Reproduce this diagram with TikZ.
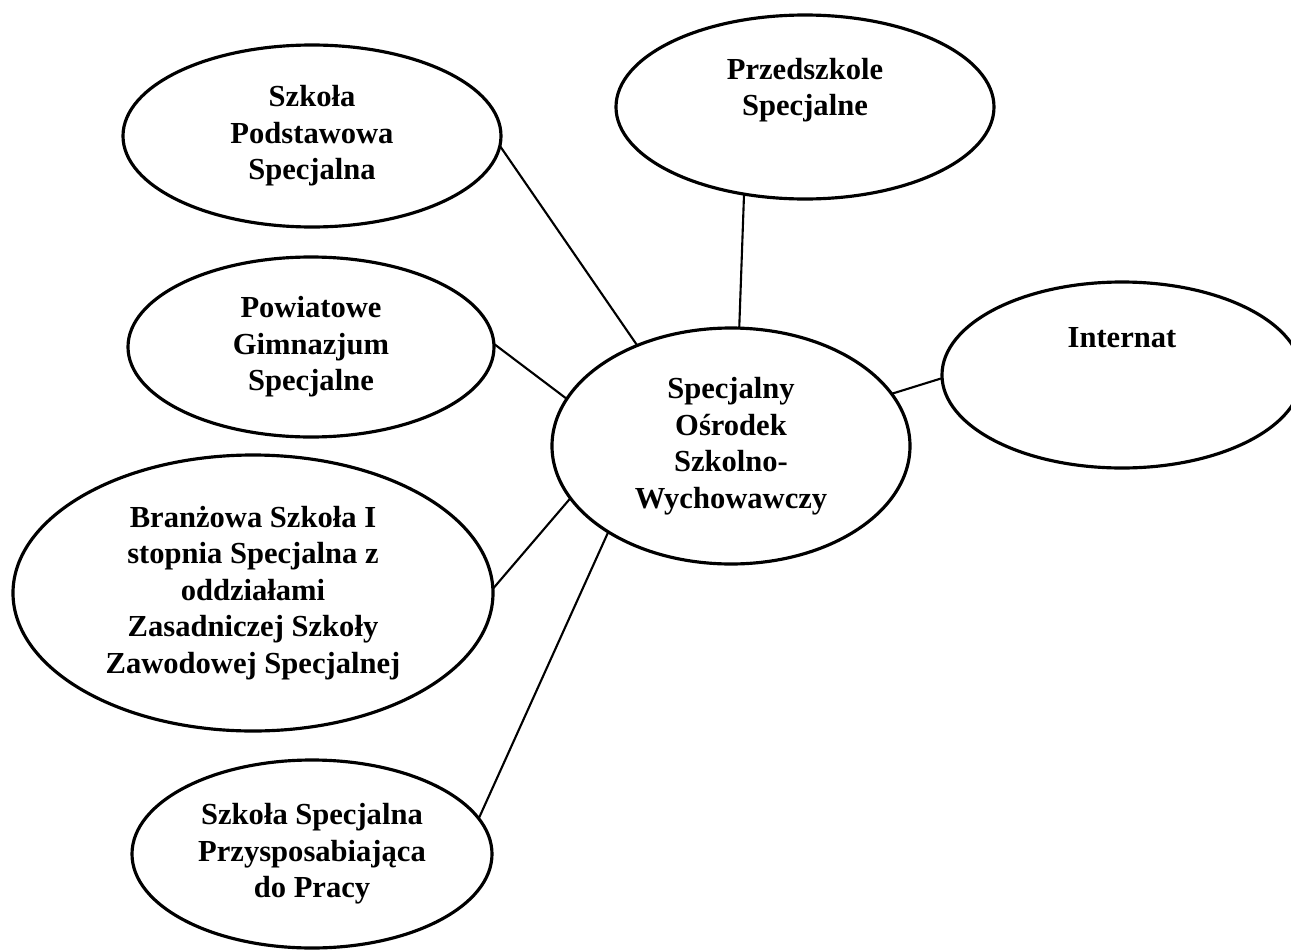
\documentclass[tikz,border=0pt]{standalone}
\usepackage{fontspec}
\setmainfont{Liberation Serif}
\usepackage{tikz}
\usetikzlibrary{shapes.geometric}

\begin{document}
\begin{tikzpicture}[
    bubble/.style={draw, ellipse, line width=1.8pt, inner sep=0pt, outer sep=0pt},
    lbl/.style={align=center, font=\bfseries\fontsize{17.4}{20.8}\selectfont},
    link/.style={line width=1.2pt}]
    \useasboundingbox (0,0) rectangle (25.82,-19.02);

    % the centre
    \node[bubble, lbl, minimum width=7.16cm, minimum height=4.72cm]
         (osrodek) at (14.62,-8.92) {Specjalny\\Ośrodek\\Szkolno-\\Wychowawczy};

    % left column
    \node[bubble, lbl, minimum width=7.56cm, minimum height=3.64cm]
         (podst) at (6.24,-2.72) {Szkoła\\Podstawowa\\Specjalna};
    \node[bubble, lbl, minimum width=7.32cm, minimum height=3.60cm]
         (gimn) at (6.22,-6.94) {Powiatowe\\Gimnazjum\\Specjalne};
    \node[bubble, lbl, minimum width=9.60cm, minimum height=5.52cm]
         (branz) at (5.06,-11.86)
         {Branżowa Szkoła I\\stopnia Specjalna z\\oddziałami\\Zasadniczej Szkoły\\Zawodowej Specjalnej};
    \node[bubble, lbl, minimum width=7.20cm, minimum height=3.76cm]
         (przysp) at (6.24,-17.08) {Szkoła Specjalna\\Przysposabiająca\\do Pracy};

    % top and right
    % (text sits high in these two)
    \node[bubble, minimum width=7.56cm, minimum height=3.68cm]
         (przed) at (16.10,-2.14) {};
    \node[lbl] (przed-t) at ([yshift=3.4mm]przed.center) {Przedszkole\\Specjalne};
    \node[bubble, minimum width=7.20cm, minimum height=3.72cm]
         (internat) at (22.44,-7.50) {};
    \node[lbl] (internat-t) at ([yshift=7.4mm]internat.center) {Internat};

    % links
    \draw[link] (podst.-3)    -- (osrodek.133);
    \draw[link] (przed.235)   -- (osrodek.86);
    \draw[link] (gimn.1)      -- (osrodek.164);
    \draw[link] (osrodek.18)  -- (internat.181);
    \draw[link] (branz.1)     -- (osrodek.198);
    \draw[link] (przysp.12)   -- (osrodek.215);
\end{tikzpicture}
\end{document}
